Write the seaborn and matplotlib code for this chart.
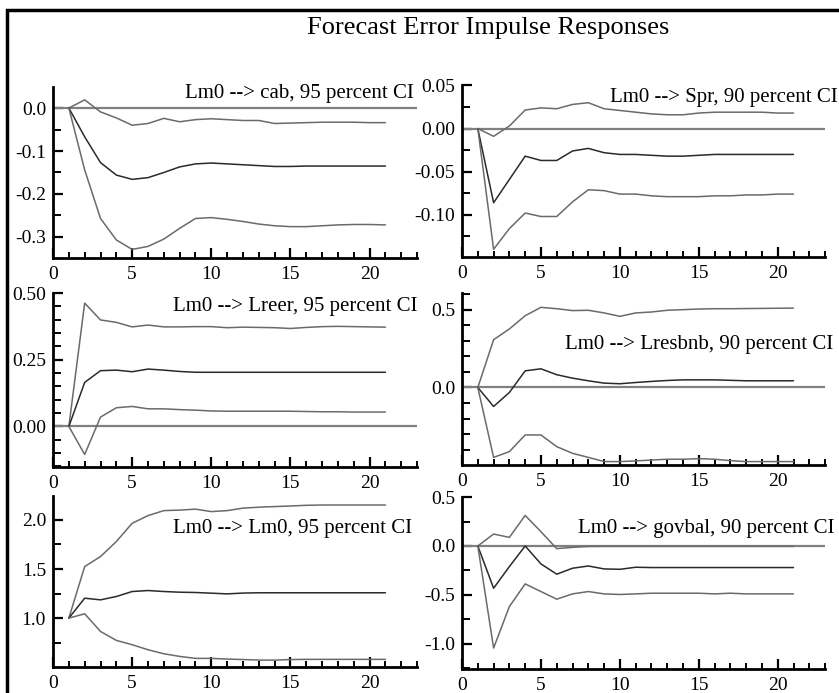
import numpy as np
import pandas as pd
import matplotlib
matplotlib.use("Agg")
import matplotlib.pyplot as plt
import matplotlib.patches as patches
from matplotlib.ticker import MultipleLocator, FormatStrFormatter
import seaborn as sns

# horizons 1..21
horizon = list(range(1, 22))

cab_up = [0, 0.019, -0.009, -0.023, -0.040, -0.036, -0.024, -0.032, -0.027, -0.025, -0.027,
          -0.029, -0.029, -0.036, -0.035, -0.034, -0.033, -0.033, -0.033, -0.034, -0.034]
cab_irf = [0, -0.067, -0.127, -0.156, -0.166, -0.162, -0.150, -0.137, -0.130, -0.128, -0.130,
           -0.132, -0.134, -0.136, -0.136, -0.135, -0.135, -0.135, -0.135, -0.135, -0.135]
cab_lo = [0, -0.144, -0.257, -0.307, -0.329, -0.322, -0.305, -0.280, -0.257, -0.255, -0.259,
          -0.264, -0.270, -0.274, -0.276, -0.276, -0.274, -0.272, -0.271, -0.271, -0.272]

spr_up = [0, -0.009, 0.003, 0.0215, 0.024, 0.023, 0.028, 0.030, 0.023, 0.021, 0.019,
          0.017, 0.016, 0.016, 0.018, 0.019, 0.019, 0.019, 0.019, 0.018, 0.018]
spr_irf = [0, -0.086, -0.059, -0.032, -0.037, -0.037, -0.026, -0.023, -0.028, -0.030, -0.030,
           -0.031, -0.032, -0.032, -0.031, -0.030, -0.030, -0.030, -0.030, -0.030, -0.030]
spr_lo = [0, -0.140, -0.116, -0.098, -0.102, -0.102, -0.085, -0.071, -0.072, -0.076, -0.076,
          -0.078, -0.079, -0.079, -0.079, -0.078, -0.078, -0.077, -0.077, -0.076, -0.076]

lreer_up = [0, 0.462, 0.399, 0.390, 0.373, 0.380, 0.373, 0.373, 0.374, 0.374, 0.370,
            0.372, 0.371, 0.370, 0.367, 0.371, 0.374, 0.375, 0.374, 0.373, 0.372]
lreer_irf = [0, 0.165, 0.209, 0.211, 0.205, 0.215, 0.211, 0.206, 0.203, 0.203, 0.203,
             0.203, 0.203, 0.203, 0.203, 0.203, 0.203, 0.203, 0.203, 0.203, 0.203]
lreer_lo = [0, -0.105, 0.035, 0.070, 0.075, 0.066, 0.066, 0.063, 0.061, 0.058, 0.057,
            0.057, 0.057, 0.057, 0.057, 0.056, 0.055, 0.055, 0.054, 0.054, 0.054]

lres_up = [0, 0.307, 0.376, 0.461, 0.515, 0.506, 0.494, 0.496, 0.479, 0.457, 0.479,
           0.485, 0.496, 0.500, 0.504, 0.506, 0.506, 0.507, 0.508, 0.509, 0.510]
lres_irf = [0, -0.122, -0.032, 0.107, 0.120, 0.082, 0.060, 0.043, 0.028, 0.024, 0.032,
            0.039, 0.045, 0.049, 0.049, 0.049, 0.046, 0.043, 0.043, 0.043, 0.043]
lres_lo = [0, -0.449, -0.412, -0.305, -0.305, -0.380, -0.423, -0.449, -0.476, -0.476, -0.472,
           -0.466, -0.461, -0.461, -0.457, -0.461, -0.470, -0.476, -0.476, -0.476, -0.476]

lm0_up = [1.0, 1.525, 1.627, 1.78, 1.966, 2.044, 2.095, 2.10, 2.11, 2.085, 2.095,
          2.12, 2.13, 2.136, 2.142, 2.149, 2.152, 2.152, 2.152, 2.152, 2.152]
lm0_irf = [1.0, 1.203, 1.186, 1.22, 1.271, 1.281, 1.271, 1.264, 1.261, 1.254, 1.247,
           1.255, 1.258, 1.258, 1.258, 1.258, 1.258, 1.258, 1.258, 1.258, 1.258]
lm0_lo = [1.0, 1.044, 0.864, 0.773, 0.729, 0.678, 0.637, 0.610, 0.590, 0.590, 0.583,
          0.578, 0.573, 0.572, 0.578, 0.580, 0.580, 0.580, 0.580, 0.580, 0.580]

gov_up = [0, 0.122, 0.088, 0.312, 0.146, -0.027, -0.014, -0.005, -0.004, -0.004, -0.004,
          -0.004, -0.004, -0.004, -0.004, -0.004, -0.004, -0.004, -0.004, -0.004, -0.004]
gov_irf = [0, -0.431, -0.21, 0.0, -0.183, -0.288, -0.227, -0.204, -0.234, -0.238, -0.217,
           -0.22, -0.22, -0.22, -0.22, -0.22, -0.22, -0.22, -0.22, -0.22, -0.22]
gov_lo = [0, -1.042, -0.618, -0.387, -0.465, -0.543, -0.489, -0.465, -0.489, -0.495, -0.489,
          -0.482, -0.482, -0.482, -0.482, -0.489, -0.482, -0.489, -0.489, -0.489, -0.489]

labels = ["Lm0 --> cab, 95 percent CI", "Lm0 --> Spr, 90 percent CI",
          "Lm0 --> Lreer, 95 percent CI", "Lm0 --> Lresbnb, 90 percent CI",
          "Lm0 --> Lm0, 95 percent CI", "Lm0 --> govbal, 90 percent CI"]
series = [(cab_up, cab_irf, cab_lo), (spr_up, spr_irf, spr_lo),
          (lreer_up, lreer_irf, lreer_lo), (lres_up, lres_irf, lres_lo),
          (lm0_up, lm0_irf, lm0_lo), (gov_up, gov_irf, gov_lo)]

# axes rects (figure fraction), y limits, major/minor steps, label format, label anchor
rects = [[0.0632, 0.6277, 0.4339, 0.2468], [0.5507, 0.6291, 0.4327, 0.2482],
         [0.0632, 0.3261, 0.4339, 0.2511], [0.5507, 0.3290, 0.4327, 0.2482],
         [0.0632, 0.0375, 0.4339, 0.2468], [0.5507, 0.0346, 0.4327, 0.2482]]
ylims = [(-0.349, 0.049), (-0.149, 0.0505), (-0.152, 0.5), (-0.498, 0.607),
         (0.502, 2.244), (-1.256, 0.5)]
majors = [0.1, 0.05, 0.25, 0.5, 0.5, 0.5]
minors = [0.05, 0.025, 0.05, 0.1, 0.25, 0.25]
fmts = ['%.1f', '%.2f', '%.2f', '%.1f', '%.1f', '%.1f']
label_xy = [(22.8, 0.023), (23.8, 0.031), (23.0, 0.432), (23.5, 0.25),
            (22.7, 1.867), (23.6, 0.133)]
has_zero = [True, True, True, True, False, True]

sns.set_theme(style="ticks")
plt.rcParams['font.family'] = ['Liberation Serif', 'DejaVu Serif']
plt.rcParams['axes.unicode_minus'] = False
plt.rcParams['text.color'] = 'black'
plt.rcParams['xtick.labelcolor'] = 'black'
plt.rcParams['ytick.labelcolor'] = 'black'

fig = plt.figure(figsize=(8.39, 6.93), dpi=100)
palette = {"upper": "#6a6a6a", "irf": "#2a2a2a", "lower": "#6a6a6a"}

for i in range(6):
    up, irf, lo = series[i]
    df = pd.DataFrame({
        "h": horizon * 3,
        "value": up + irf + lo,
        "band": ["upper"] * 21 + ["irf"] * 21 + ["lower"] * 21,
    })
    ax = fig.add_axes(rects[i])
    ax.set_facecolor("white")
    if has_zero[i]:
        ax.axhline(0, color="#808080", lw=1.6, zorder=1)
    sns.lineplot(data=df, x="h", y="value", hue="band", palette=palette,
                 ax=ax, legend=False, lw=1.1, zorder=2)
    ax.set_xlim(0, 23)
    ax.set_ylim(*ylims[i])
    ax.xaxis.set_major_locator(MultipleLocator(5))
    ax.xaxis.set_minor_locator(MultipleLocator(1))
    ax.yaxis.set_major_locator(MultipleLocator(majors[i]))
    ax.yaxis.set_minor_locator(MultipleLocator(minors[i]))
    ax.yaxis.set_major_formatter(FormatStrFormatter(fmts[i]))
    ax.tick_params(which="major", direction="in", length=7, width=1.6,
                   labelsize=14, color="black", labelcolor="black")
    ax.tick_params(axis="x", which="major", pad=6)
    ax.tick_params(axis="y", which="major", pad=5)
    ax.tick_params(which="minor", direction="in", length=4, width=1.4, color="black")
    ax.tick_params(axis="y", which="minor", length=6)
    for s in ["top", "right"]:
        ax.spines[s].set_visible(False)
    for s in ["left", "bottom"]:
        ax.spines[s].set_linewidth(2)
        ax.spines[s].set_color("black")
    ax.set_xlabel("")
    ax.set_ylabel("")
    ax.text(label_xy[i][0], label_xy[i][1], labels[i], ha="right", va="baseline",
            fontsize=15, color="black", clip_on=False)

fig.text(488 / 839, 1 - 28 / 693, "Forecast Error Impulse Responses",
         ha="center", va="center", fontsize=19, color="black")

# frame around the whole chart; its right and bottom edges fall outside the image
top = 1 - 10 / 693
border = patches.Rectangle((7 / 839, -0.1), 1.2, top + 0.1,
                           transform=fig.transFigure, fill=False,
                           edgecolor="black", lw=2.5, clip_on=False)
fig.patches.append(border)

fig.savefig("out.png", dpi=100, facecolor="white")
